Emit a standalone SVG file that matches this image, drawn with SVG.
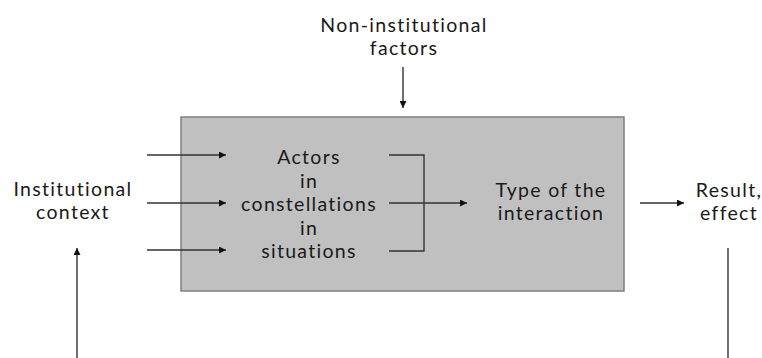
<svg xmlns="http://www.w3.org/2000/svg" width="762" height="358" viewBox="0 0 762 358">
<defs>
<style>
.t{font-family:Lato,"Open Sans",sans-serif;font-size:19.5px;letter-spacing:1.3px;fill:#1a1a1a;text-anchor:middle}
.c{stroke:#333;stroke-width:1.4;fill:none}
</style>
<marker id="ah" viewBox="0 0 10 10" refX="10" refY="5" markerWidth="7" markerHeight="7" markerUnits="userSpaceOnUse" orient="auto">
<path d="M0,0 L10,5 L0,10 z" fill="#111"/>
</marker>
</defs>
<rect width="762" height="358" fill="#fff"/>
<g id="box">
<rect x="181" y="117" width="443" height="174" fill="#c0c0c0" stroke="#7f7f7f" stroke-width="1.5"/>
</g>
<g id="actors">
<text class="t" x="309" y="164">Actors</text>
<text class="t" x="309" y="188">in</text>
<text class="t" x="309" y="211">constellations</text>
<text class="t" x="309" y="235">in</text>
<text class="t" x="309" y="258">situations</text>
</g>
<g id="interaction">
<text class="t" x="551" y="197">Type of the</text>
<text class="t" x="551" y="220">interaction</text>
</g>
<g id="institutional">
<text class="t" x="73" y="196">Institutional</text>
<text class="t" x="73" y="219">context</text>
</g>
<g id="noninstitutional">
<text class="t" x="404" y="32">Non-institutional</text>
<text class="t" x="404" y="55">factors</text>
</g>
<g id="result">
<text class="t" x="729" y="197">Result,</text>
<text class="t" x="729" y="220">effect</text>
</g>
<g id="connectors">
<line class="c" x1="147" y1="155" x2="226" y2="155" marker-end="url(#ah)"/>
<line class="c" x1="147" y1="203" x2="226" y2="203" marker-end="url(#ah)"/>
<line class="c" x1="147" y1="250" x2="226" y2="250" marker-end="url(#ah)"/>
<polyline class="c" points="389,155 424,155 424,251 389,251"/>
<line class="c" x1="389" y1="203" x2="467" y2="203" marker-end="url(#ah)"/>
<line class="c" x1="640" y1="203" x2="684" y2="203" marker-end="url(#ah)"/>
<line class="c" x1="403" y1="67" x2="403" y2="108" marker-end="url(#ah)"/>
<line class="c" x1="77" y1="358" x2="77" y2="248" marker-end="url(#ah)"/>
<line class="c" x1="728" y1="248" x2="728" y2="358"/>
</g>
</svg>
